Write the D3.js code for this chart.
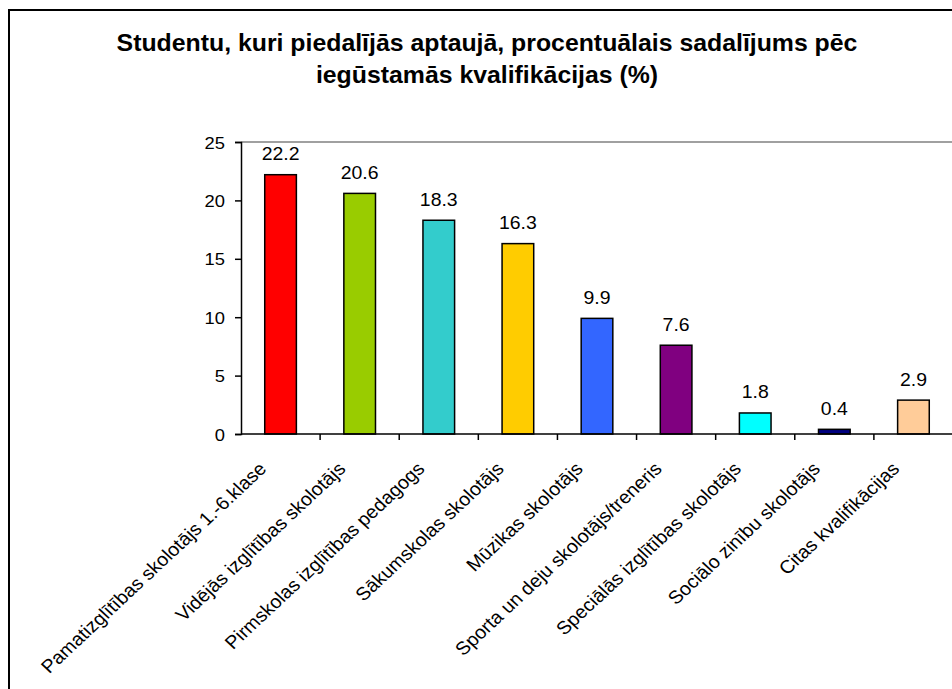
<!DOCTYPE html>
<html>
<head>
<meta charset="utf-8">
<script src="https://cdn.jsdelivr.net/npm/d3@7"></script>
<style>
  body { margin: 0; background: #fff; }
  svg { display: block; font-family: Arial, "Liberation Sans", sans-serif; }
</style>
</head>
<body>
<svg></svg>
<script>
window.onload = () => {

  const width = 952;
  const height = 689;

  const categories = [
    'Pamatizglītības skolotājs 1.-6.klase',
    'Vidējās izglītības skolotājs',
    'Pirmskolas izglītības pedagogs',
    'Sākumskolas skolotājs',
    'Mūzikas skolotājs',
    'Sporta un deju skolotājs/treneris',
    'Speciālās izglītības skolotājs',
    'Sociālo zinību skolotājs',
    'Citas kvalifikācijas'
  ];
  const values = [22.2, 20.6, 18.3, 16.3, 9.9, 7.6, 1.8, 0.4, 2.9];
  const colors = ['#ff0000', '#99cc00', '#33cccc', '#ffcc00', '#3366ff', '#800080', '#00ffff', '#000080', '#ffcc99'];
  const yTicks = [0, 5, 10, 15, 20, 25];
  const titleLines = [
    'Studentu, kuri piedalījās aptaujā, procentuālais sadalījums pēc',
    'iegūstamās kvalifikācijas (%)'
  ];

  // the original picture is slightly stretched sideways, so text is too
  const sx = 1.08;

  const svg = d3.select('svg').attr('width', width).attr('height', height);

  // outer frame (runs off the right and bottom edges)
  svg.append('rect')
      .attr('x', 9).attr('y', 10)
      .attr('width', 960).attr('height', 700)
      .attr('fill', '#fff')
      .attr('stroke', '#000')
      .attr('stroke-width', 2);

  svg.selectAll('.title')
      .data(titleLines)
      .join('text')
      .attr('class', 'title')
      .attr('transform', (d, i) => 'translate(487,' + (51 + i * 32) + ') scale(' + sx + ',1)')
      .attr('text-anchor', 'middle')
      .attr('font-size', 23)
      .attr('font-weight', 'bold')
      .text(d => d);

  const xScale = d3.scaleBand().domain(categories).range([241, 953]);
  const yScale = d3.scaleLinear().domain([0, 25]).range([434, 142]);
  const barW = xScale.bandwidth() * 0.4;

  // top gridline
  svg.append('line')
      .attr('x1', 241).attr('x2', 953)
      .attr('y1', yScale(25)).attr('y2', yScale(25))
      .attr('stroke', '#a0a0a0')
      .attr('stroke-width', 2);

  const yAxis = svg.append('g')
      .attr('transform', 'translate(241,0)')
      .call(d3.axisLeft(yScale).tickValues(yTicks).tickSize(6));
  yAxis.select('.domain').attr('stroke', '#000').attr('stroke-width', 1.5);
  yAxis.selectAll('.tick line').attr('stroke', '#000').attr('stroke-width', 1.5);
  yAxis.selectAll('.tick text')
      .attr('x', null).attr('dy', null)
      .attr('transform', 'translate(-16,6) scale(' + sx + ',1)')
      .attr('font-size', 17)
      .attr('fill', '#000')
      .attr('font-family', 'Arial, "Liberation Sans", sans-serif');

  svg.selectAll('.bar')
      .data(values)
      .join('rect')
      .attr('class', 'bar')
      .attr('x', (d, i) => xScale(categories[i]) + (xScale.bandwidth() - barW) / 2)
      .attr('y', d => yScale(d))
      .attr('width', barW)
      .attr('height', d => yScale(0) - yScale(d))
      .attr('fill', (d, i) => colors[i])
      .attr('stroke', '#000')
      .attr('stroke-width', 1.5);

  svg.selectAll('.val')
      .data(values)
      .join('text')
      .attr('class', 'val')
      .attr('transform', (d, i) => 'translate(' + (xScale(categories[i]) + xScale.bandwidth() / 2) + ',' + (yScale(d) - 14.5) + ') scale(' + sx + ',1)')
      .attr('text-anchor', 'middle')
      .attr('font-size', 18)
      .text(d => d.toFixed(1));

  // x axis line and ticks at category boundaries
  svg.append('line')
      .attr('x1', 241).attr('x2', 953)
      .attr('y1', yScale(0)).attr('y2', yScale(0))
      .attr('stroke', '#000')
      .attr('stroke-width', 1.5);

  svg.selectAll('.xtick')
      .data(categories)
      .join('line')
      .attr('class', 'xtick')
      .attr('x1', d => xScale(d) + xScale.bandwidth())
      .attr('x2', d => xScale(d) + xScale.bandwidth())
      .attr('y1', yScale(0))
      .attr('y2', yScale(0) + 6)
      .attr('stroke', '#000')
      .attr('stroke-width', 1.5);

  svg.selectAll('.xlabel')
      .data(categories)
      .join('text')
      .attr('class', 'xlabel')
      .attr('transform', d => 'translate(' + (xScale(d) + xScale.bandwidth() / 2 - 13) + ',' + (yScale(0) + 36) + ') scale(1.07,1) rotate(-45)')
      .attr('text-anchor', 'end')
      .attr('font-size', 18.5)
      .text(d => d);

};
</script>
</body>
</html>
